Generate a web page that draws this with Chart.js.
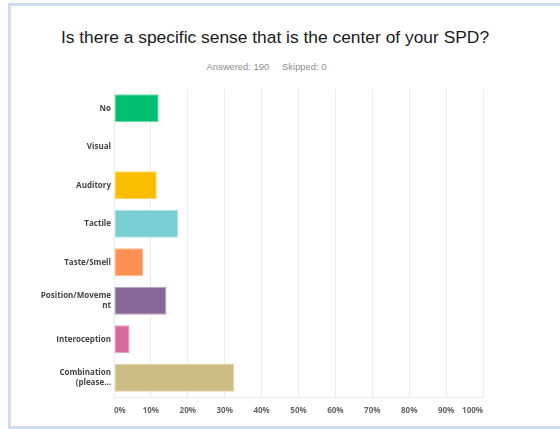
<!DOCTYPE html>
<html>
<head>
<meta charset="utf-8">
<script src="https://cdn.jsdelivr.net/npm/chart.js@4/dist/chart.umd.min.js"></script>
<style>
  html, body { margin: 0; padding: 0; background: #fff; }
  #wrap { position: relative; width: 560px; height: 429px; overflow: hidden; }
  .frame { position: absolute; left: 8px; top: 3px; width: 600px; height: 420px;
           border-left: 3px solid #cfdbf1; border-top: 3px solid #cfdbf1; border-bottom: 3px solid #cfdbf1; }
  .title { position: absolute; left: 0; width: 550px; top: 27px; text-align: center;
           font: 17.4px "Liberation Sans", Arial, sans-serif; color: #1a1a1a; }
  .sub { position: absolute; left: 0; width: 533px; top: 61px; text-align: center;
         font: 9.4px "Liberation Sans", Arial, sans-serif; color: #8d8d8d; }
  .sub span + span { margin-left: 13px; }
  canvas { position: absolute; left: 0; top: 0; }
</style>
</head>
<body>
<div id="wrap">
  <div class="frame"></div>
  <div class="title">Is there a specific sense that is the center of your SPD?</div>
  <div class="sub"><span>Answered: 190</span><span>Skipped: 0</span></div>
  <canvas id="c-spd" width="560" height="429"></canvas>
</div>
<script>
const CATS   = ['No', 'Visual', 'Auditory', 'Tactile', 'Taste/Smell',
                ['Position/Moveme', 'nt'], 'Interoception', ['Combination', '(please...']];
const PCTS   = [12.11, 0, 11.58, 17.37, 7.89, 14.21, 4.21, 32.63];
const COLORS = ['#00bf6f', '#507cb6', '#f9be00', '#79cfd3', '#ff9054', '#876898', '#d8699b', '#cbbd83'];
const EDGES  = ['#6fdaa9', '#8fa9d0', '#fbd766', '#b0e3e5', '#ffbc97', '#b7a3c2', '#e8a3c2', '#ddd3ad'];
const XTICKS = ['0%', '10%', '20%', '30%', '40%', '50%', '60%', '70%', '80%', '90%', '100%'];

const GRID = '#ececec';
const LBL_FONT = { family: '"Open Sans", sans-serif', size: 8, weight: 'bold', lineHeight: 1.25 };

new Chart(document.getElementById('c-spd'), {
  type: 'bar',
  data: {
    labels: CATS,
    datasets: [{
      data: PCTS,
      backgroundColor: COLORS,
      borderColor: EDGES,
      borderWidth: 1,
      borderSkipped: false,
      categoryPercentage: 1,
      barPercentage: 0.725,
    }],
  },
  options: {
    indexAxis: 'y',
    responsive: false,
    animation: false,
    layout: { padding: { left: 0, right: 77, top: 89, bottom: 10 } },
    plugins: { legend: { display: false }, tooltip: { enabled: false } },
    scales: {
      x: {
        min: 0, max: 100,
        afterFit: s => { s.height = 22; },
        border: { display: true, color: GRID },
        grid: { color: GRID, drawTicks: false },
        ticks: {
          stepSize: 10, align: 'inner', padding: 9,
          color: '#666', font: LBL_FONT,
          callback: (v, i) => XTICKS[i],
        },
      },
      y: {
        afterFit: s => { s.width = 114; },
        border: { display: true, color: GRID },
        grid: { display: false, drawTicks: false },
        ticks: { padding: 3, color: '#454545', font: LBL_FONT },
      },
    },
  },
});
</script>
</body>
</html>
